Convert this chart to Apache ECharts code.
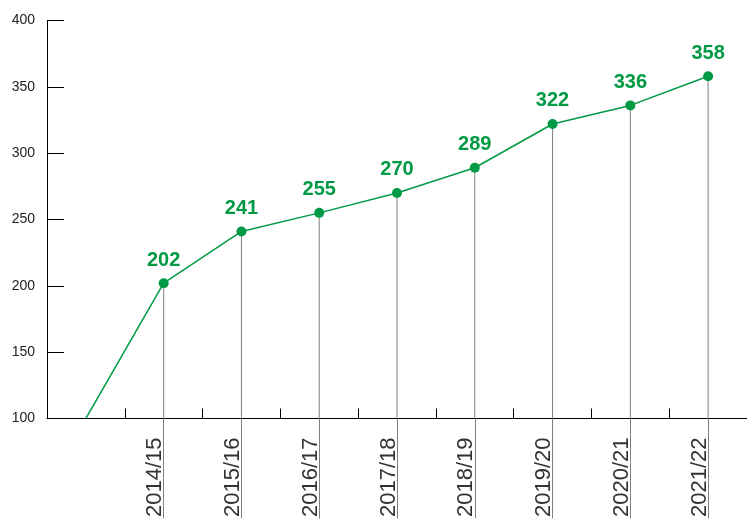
<!DOCTYPE html>
<html>
<head>
<meta charset="utf-8">
<script src="https://cdn.jsdelivr.net/npm/echarts@6/dist/echarts.min.js"></script>
<style>html,body{margin:0;padding:0;background:#fff;overflow:hidden}#c{width:747px;height:520px}</style>
</head>
<body>
<div id="c"></div>
<script>
const categories = ['', '2014/15', '2015/16', '2016/17', '2017/18', '2018/19', '2019/20', '2020/21', '2021/22'];
const values = [100, 202, 241, 255, 270, 289, 322, 336, 358];
const labeled = [false, true, true, true, true, true, true, true, true];
const yMin = 100, yMax = 400, yStep = 50;

const green = '#009a44';
const font = "'Liberation Sans', Arial, Helvetica, sans-serif";

const chart = echarts.init(document.getElementById('c'), null, {renderer: 'canvas'});
chart.setOption({
  animation: false,
  grid: {left: 47, top: 20.5, width: 708, height: 401.5, containLabel: false},
  xAxis: [{
    type: 'category', data: categories, boundaryGap: true,
    axisLine: {lineStyle: {color: '#000', width: 1}},
    axisTick: {show: true, inside: true, length: 10, lineStyle: {color: '#000'}},
    axisLabel: {show: false}
  }, {
    type: 'category', data: categories, boundaryGap: true, position: 'bottom',
    axisLine: {show: false},
    axisTick: {show: true, alignWithLabel: true, length: 100,
      interval: (i) => labeled[i], lineStyle: {color: '#808080'}},
    axisLabel: {show: true, rotate: 90, fontSize: 22, color: '#333', fontFamily: font,
      margin: 19, verticalAlign: 'bottom', lineHeight: 17, interval: 0}
  }],
  yAxis: {
    type: 'value', min: yMin, max: yMax, interval: yStep,
    axisLine: {show: true, lineStyle: {color: '#000'}},
    axisTick: {show: true, inside: true, length: 17, lineStyle: {color: '#000'}},
    splitLine: {show: false},
    axisLabel: {fontSize: 14, color: '#222', fontFamily: font, margin: 12}
  },
  series: [{
    type: 'bar', xAxisIndex: 0, barWidth: 1, silent: true,
    itemStyle: {color: '#808080'},
    data: values.map((v, i) => labeled[i] ? v : null)
  }, {
    type: 'line', xAxisIndex: 0, data: values.map((v, i) => ({
      value: v,
      symbolSize: labeled[i] ? 10 : 0,
      label: {show: labeled[i]}
    })),
    symbol: 'circle', symbolSize: 10, z: 5,
    lineStyle: {color: green, width: 1.5},
    itemStyle: {color: green},
    label: {position: 'top', distance: 8, fontSize: 20, fontWeight: 'bold', color: green, fontFamily: font}
  }]
});
</script>
</body>
</html>
